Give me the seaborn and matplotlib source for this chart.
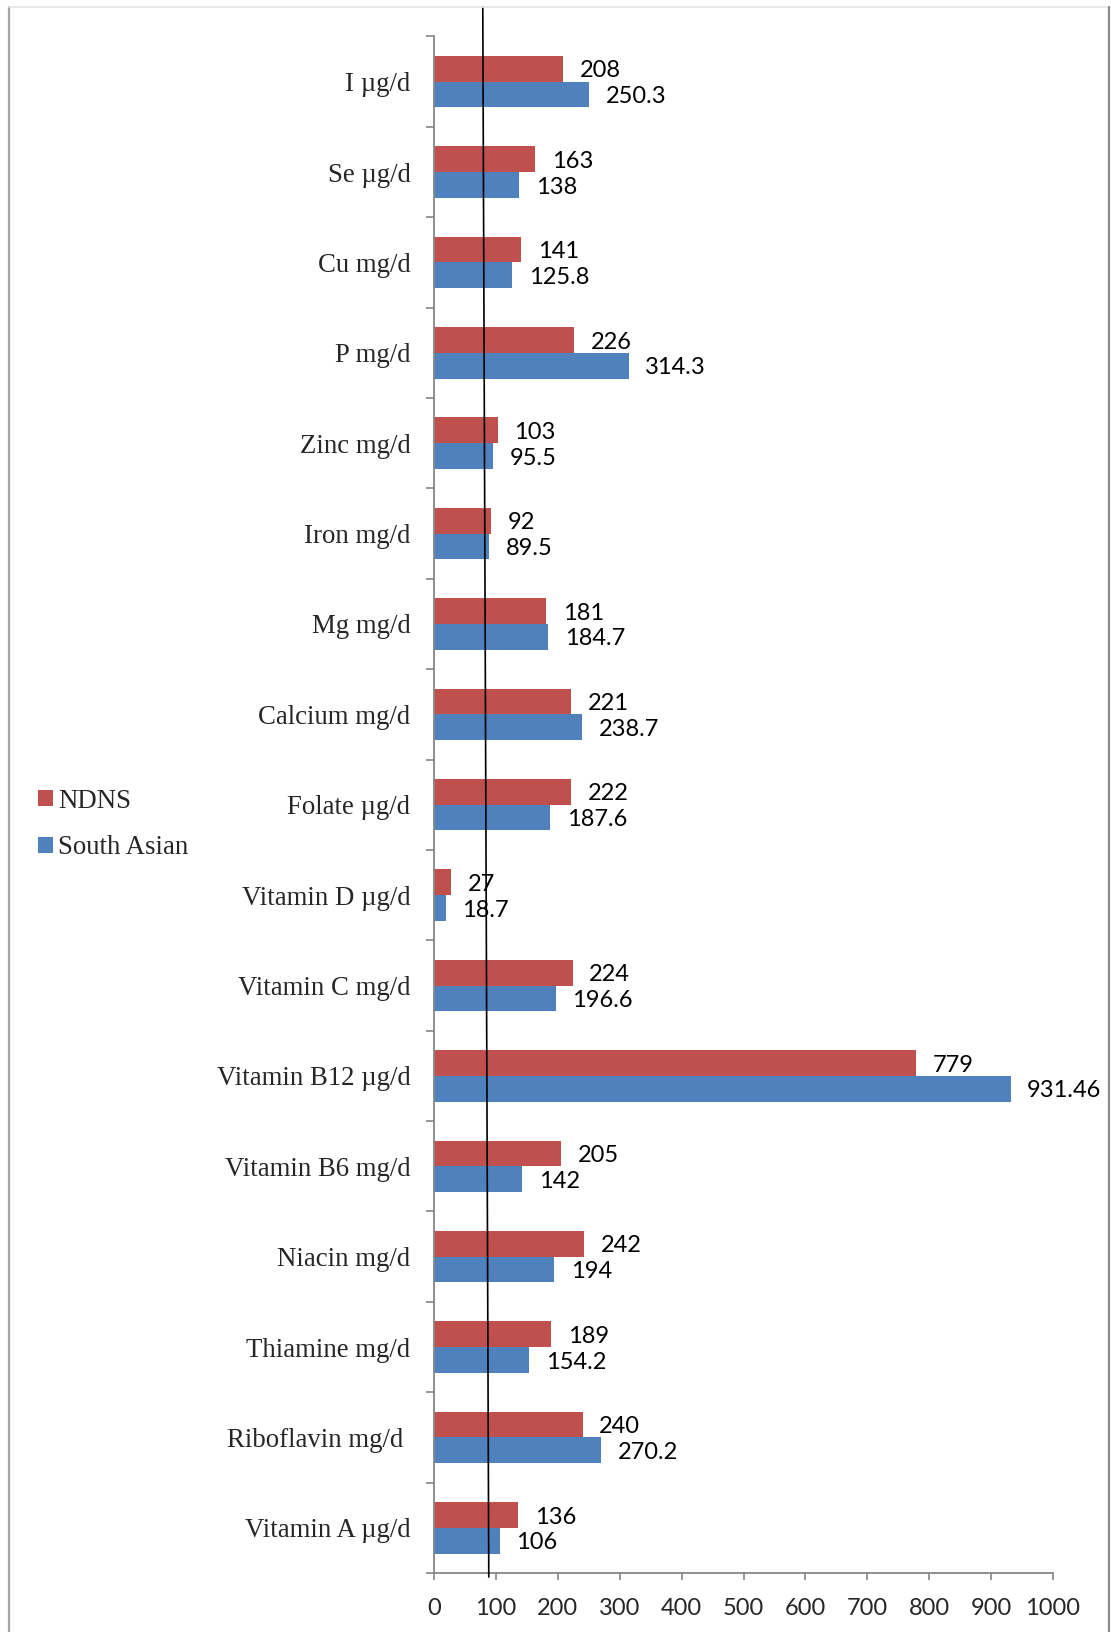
import matplotlib
matplotlib.use("Agg")
import matplotlib.pyplot as plt
from matplotlib.lines import Line2D
from matplotlib.patches import Patch
from matplotlib.ticker import FixedLocator
import matplotlib.transforms as mtransforms
import numpy as np
import pandas as pd
import seaborn as sns

# Nutrients, listed top to bottom
nutrients = [
    "I µg/d", "Se µg/d", "Cu mg/d", "P mg/d", "Zinc mg/d", "Iron mg/d",
    "Mg mg/d", "Calcium mg/d", "Folate µg/d", "Vitamin D µg/d",
    "Vitamin C mg/d", "Vitamin B12 µg/d", "Vitamin B6 mg/d", "Niacin mg/d",
    "Thiamine mg/d", "Riboflavin mg/d ", "Vitamin A µg/d",
]
# Intake as % of reference value
ndns = [208, 163, 141, 226, 103, 92, 181, 221, 222, 27, 224, 779, 205, 242, 189, 240, 136]
south_asian = [250.3, 138, 125.8, 314.3, 95.5, 89.5, 184.7, 238.7, 187.6, 18.7,
               196.6, 931.46, 142, 194, 154.2, 270.2, 106]
groups = ["NDNS", "South Asian"]
x_ticks = list(range(0, 1001, 100))

red = "#C0504D"
blue = "#4F81BD"
axis_grey = "#868686"

df = pd.DataFrame({
    "nutrient": nutrients * 2,
    "value": ndns + south_asian,
    "group": [groups[0]] * len(nutrients) + [groups[1]] * len(nutrients),
})

sns.set_style("white")
serif = ["Liberation Serif", "DejaVu Serif"]
sans = ["Lato", "DejaVu Sans"]

W, H = 1111, 1632
fig = plt.figure(figsize=(W / 100, H / 100), dpi=100)
ax = fig.add_axes([434 / W, 0.03615, (1053 - 434) / W, 0.9415])

sns.barplot(
    data=df, y="nutrient", x="value", hue="group", orient="h",
    palette=[red, blue], width=0.57, saturation=1, errorbar=None,
    linewidth=0, legend=False, ax=ax,
)

n = len(nutrients)
ax.set_xlim(0, 1000)
ax.set_ylim(n - 0.5, -0.5)
ax.set_xlabel("")
ax.set_ylabel("")

# value labels beside each bar
for container, vals in zip(ax.containers, [ndns, south_asian]):
    for bar, v in zip(container.patches, vals):
        ax.annotate(f"{v:g}", xy=(bar.get_x() + bar.get_width(), bar.get_y() + bar.get_height() / 2),
                    xytext=(12, -1.5), textcoords="offset points", ha="left", va="center",
                    fontsize=17, family=sans, color="black")

# axes styling
sns.despine(ax=ax, top=True, right=True)
for side in ("left", "bottom"):
    ax.spines[side].set_color(axis_grey)
    ax.spines[side].set_linewidth(1.3)

ax.xaxis.set_major_locator(FixedLocator(x_ticks))
ax.tick_params(axis="x", which="major", direction="out", length=5, width=1.2,
               color=axis_grey, pad=13, labelsize=17, bottom=True)
for lab in ax.get_xticklabels():
    lab.set_family(sans)

ax.yaxis.set_minor_locator(FixedLocator(np.arange(-0.5, n, 1.0)))
ax.tick_params(axis="y", which="major", length=0, pad=17, labelsize=19.3)
ax.tick_params(axis="y", which="minor", direction="out", length=5.5, width=1.2,
               color=axis_grey, left=True)
for lab in ax.get_yticklabels():
    lab.set_family(serif)

# reference line crossing the chart
blend = mtransforms.blended_transform_factory(ax.transData, ax.transAxes)
ax.plot([78.8, 88.5], [1.0192, -0.0026], color="black", linewidth=1.2,
        transform=blend, clip_on=False, zorder=5)

# legend on the left
handles = [Patch(facecolor=red, edgecolor="none"), Patch(facecolor=blue, edgecolor="none")]
fig.legend(handles, groups, loc="center left", bbox_to_anchor=(38 / W, 1 - 824.5 / H),
           frameon=False, prop={"family": serif, "size": 19.3},
           handlelength=0.55, handleheight=0.55, handletextpad=0.2,
           labelspacing=0.82, borderpad=0, borderaxespad=0)

# chart frame
fig.add_artist(Line2D([9 / W, 9 / W], [0, 1 - 7 / H], transform=fig.transFigure,
                      color="#a6a6a6", linewidth=1.6))
fig.add_artist(Line2D([9 / W, 1109 / W], [1 - 7 / H, 1 - 7 / H], transform=fig.transFigure,
                      color="#e6e6e6", linewidth=1.2))
fig.add_artist(Line2D([1109 / W, 1109 / W], [0, 1 - 7 / H], transform=fig.transFigure,
                      color="#8c8c8c", linewidth=1.6))

fig.savefig("out.png", dpi=100, facecolor="white")
